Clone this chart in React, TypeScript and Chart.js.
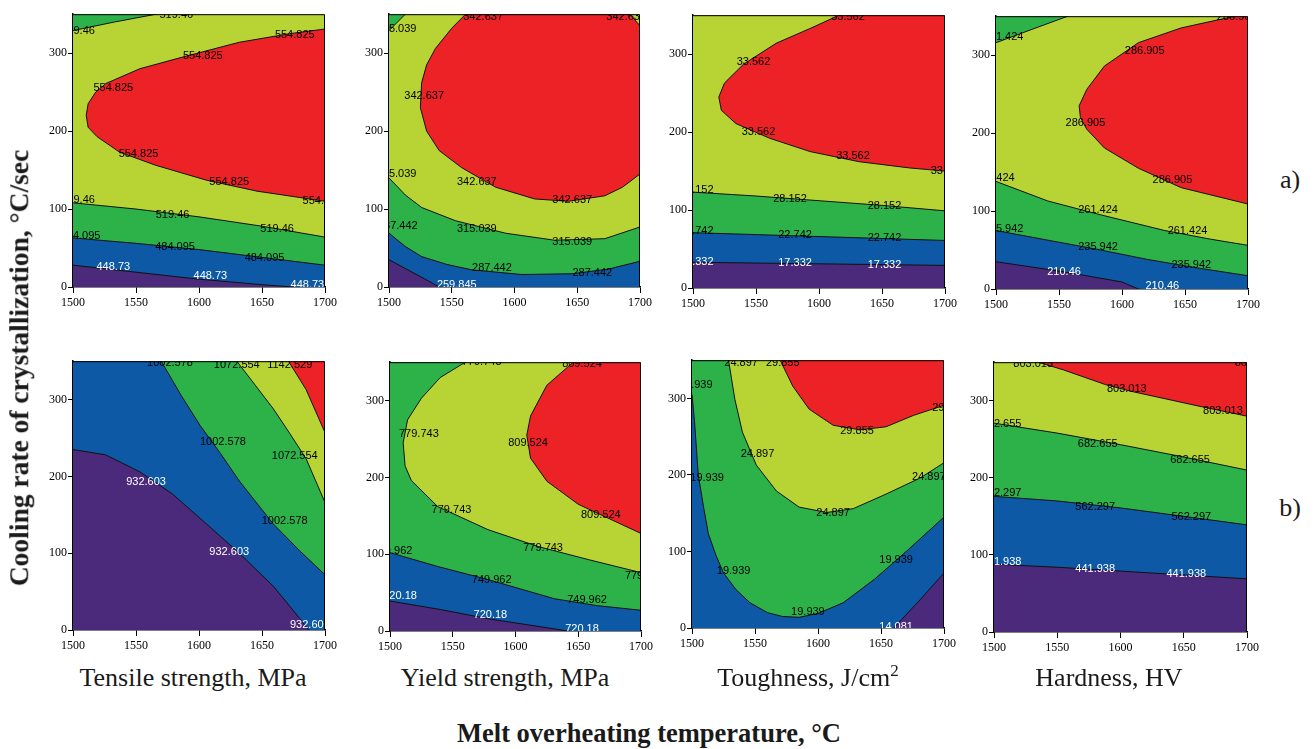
import React, { useEffect, useRef } from 'react';
import { Chart, registerables } from 'chart.js';

Chart.register(...registerables);

// ---------- axes ----------
const X_MIN = 1500;
const X_MAX = 1700;
const X_STEP = 50;
const Y_MIN = 0;
const Y_MAX = 350;
const Y_STEP = 100;

// ---------- text ----------
const yTitle = 'Cooling rate of crystallization, \u00B0C/sec';
const xTitle = 'Melt overheating temperature, \u00B0C';
const panelTitles = ['Tensile strength, MPa', 'Yield strength, MPa', 'Toughness, J/cm', 'Hardness, HV'];
const rowTags = ['a)', 'b)'];

// ---------- colours of the contour bands ----------
const PURPLE = '#4b2a7b';
const BLUE = '#0d59a6';
const GREEN = '#2db24a';
const YELLOW = '#b7d434';
const RED = '#ec2227';
const LINE = '#111111';

// ---------- contour curves [x, y] ----------
// a) Tensile strength
const tsA_448 = [[1500, 28], [1550, 19], [1600, 10], [1650, 3], [1675, 0]];
const tsA_484 = [[1500, 63], [1550, 56], [1600, 48], [1650, 38], [1700, 28]];
const tsA_519 = [[1500, 108], [1550, 100], [1600, 90], [1650, 78], [1700, 64]];
const tsA_519b = [[1500, 329], [1533, 340], [1566, 350]];
const tsA_554 = [[1700, 331], [1672, 325], [1632, 314], [1587, 295], [1553, 280], [1526, 261], [1518, 250], [1512, 235], [1510.5, 220], [1512, 205], [1519, 193], [1537, 173], [1566, 156], [1606, 137], [1646, 123], [1700, 110]];
const tsA_labels = [
  [1582, 349, '519.46'], [1504, 329, '519.46'], [1676, 323, '554.825'], [1603, 296, '554.825'],
  [1532, 255, '554.825'], [1552, 171, '554.825'], [1624, 135, '554.825'], [1698, 110, '554.825'],
  [1504, 112, '519.46'], [1579, 93, '519.46'], [1662, 74, '519.46'], [1506, 65, '484.095'],
  [1581, 51, '484.095'], [1652, 37, '484.095'], [1532, 26, '448.73'], [1609, 14, '448.73'], [1686, 3, '448.73'],
];

// a) Yield strength
const ysA_259 = [[1500, 35], [1515, 22], [1530, 9], [1540, 0]];
const ysA_287 = [[1500, 69], [1513, 52], [1526, 39], [1546, 29], [1566, 22], [1606, 16], [1646, 17], [1675, 23], [1700, 33]];
const ysA_315 = [[1500, 140], [1513, 118], [1526, 102], [1553, 85], [1593, 69], [1632, 60], [1672, 62], [1700, 77]];
const ysA_315b = [[1500, 329], [1513, 350]];
const ysA_342 = [[1700, 145], [1686, 128], [1672, 117], [1643, 110], [1616, 113], [1585, 128], [1558, 153], [1540, 175], [1530, 200], [1525, 230], [1526, 262], [1530, 285], [1537, 306], [1550, 332], [1561, 350], [1692, 350], [1700, 335]];
const ysA_labels = [
  [1575, 347, '342.637'], [1689, 346, '342.637'], [1506, 331, '315.039'], [1528, 245, '342.637'],
  [1506, 145, '315.039'], [1570, 135, '342.637'], [1646, 112, '342.637'], [1507, 78, '287.442'],
  [1570, 74, '315.039'], [1646, 58, '315.039'], [1582, 25, '287.442'], [1662, 18, '287.442'], [1554, 2, '259.845'],
];

// a) Toughness
const tgA_17 = [[1500, 33], [1600, 31], [1700, 29]];
const tgA_22 = [[1500, 71], [1600, 66], [1700, 61]];
const tgA_28 = [[1500, 123], [1550, 118], [1600, 112], [1650, 106], [1700, 99]];
const tgA_33 = [[1616, 350], [1593, 333], [1566, 314], [1540, 287], [1525, 263], [1520.5, 245], [1522.5, 228], [1534, 211], [1561, 192], [1593, 175], [1632, 162], [1672, 154], [1700, 150]];
const tgA_labels = [
  [1623, 348, '33.562'], [1548, 290, '33.562'], [1552, 200, '33.562'], [1627, 169, '33.562'], [1702, 150, '33.562'],
  [1503, 126, '28.152'], [1577, 114, '28.152'], [1652, 105, '28.152'],
  [1503, 73, '22.742'], [1581, 68, '22.742'], [1652, 64, '22.742'],
  [1503, 34, '17.332'], [1581, 32, '17.332'], [1652, 30, '17.332'],
];

// a) Hardness
const hdA_210 = [[1500, 35], [1554, 22], [1600, 9], [1613, 0]];
const hdA_235 = [[1500, 75], [1540, 63], [1580, 51], [1620, 38], [1660, 27], [1700, 17]];
const hdA_261 = [[1500, 138], [1541, 113], [1581, 96], [1634, 75], [1670, 64], [1700, 56]];
const hdA_261b = [[1500, 316], [1530, 334], [1557, 350]];
const hdA_286 = [[1690, 350], [1681, 347], [1647, 335], [1613, 316], [1586, 286], [1572, 256], [1566, 235], [1567, 220], [1572, 205], [1586, 181], [1613, 155], [1647, 130], [1700, 109]];
const hdA_labels = [
  [1691, 349, '286.905'], [1506, 323, '261.424'], [1618, 306, '286.905'], [1571, 213, '286.905'], [1640, 140, '286.905'],
  [1499, 142, '261.424'], [1581, 102, '261.424'], [1652, 75, '261.424'],
  [1506, 77, '235.942'], [1581, 54, '235.942'], [1655, 31, '235.942'],
  [1554, 22, '210.46'], [1632, 4, '210.46'],
];

// b) Tensile strength
const tsB_932 = [[1500, 235], [1526, 228], [1553, 206], [1579, 177], [1606, 138], [1632, 100], [1659, 57], [1680, 15], [1687, 0]];
const tsB_1002 = [[1570, 350], [1586, 305], [1601, 266], [1617, 230], [1632, 194], [1659, 138], [1680, 103], [1700, 72]];
const tsB_1072 = [[1630, 350], [1645, 318], [1659, 288], [1672, 256], [1685, 223], [1700, 166]];
const tsB_1142 = [[1671, 350], [1685, 313], [1700, 257]];
const tsB_labels = [
  [1577, 348, '1002.578'], [1630, 345, '1072.554'], [1672, 345, '1142.529'], [1619, 245, '1002.578'],
  [1676, 227, '1072.554'], [1558, 193, '932.603'], [1668, 142, '1002.578'], [1624, 102, '932.603'], [1688, 7, '932.603'],
];

// b) Yield strength
const ysB_720 = [[1500, 39], [1540, 28], [1578, 16], [1610, 8], [1642, 0]];
const ysB_749 = [[1500, 102], [1538, 84], [1578, 67], [1631, 42], [1665, 33], [1700, 27]];
const ysB_779 = [[1560, 350], [1540, 330], [1525, 303], [1514, 275], [1510.5, 245], [1512, 215], [1517, 196], [1538, 162], [1578, 132], [1618, 110], [1658, 93], [1700, 76]];
const ysB_809 = [[1646, 350], [1625, 320], [1612, 280], [1609, 255], [1612, 225], [1625, 195], [1650, 165], [1700, 127]];
const ysB_labels = [
  [1573, 350, '779.743'], [1653, 348, '809.524'], [1523, 257, '779.743'], [1610, 245, '809.524'],
  [1549, 157, '779.743'], [1668, 151, '809.524'], [1622, 108, '779.743'], [1703, 72, '779.743'],
  [1502, 104, '749.962'], [1581, 67, '749.962'], [1657, 41, '749.962'],
  [1508, 45, '720.18'], [1580, 21, '720.18'], [1653, 3, '720.18'],
];

// b) Toughness
const tgB_14 = [[1660, 0], [1680, 35], [1700, 72]];
const tgB_19 = [[1500, 305], [1502, 270], [1505, 200], [1509, 160], [1513, 123], [1519, 95], [1525, 72], [1535, 50], [1546, 33], [1560, 20], [1572, 15], [1585, 14], [1600, 19], [1620, 33], [1645, 64], [1670, 100], [1700, 145]];
const tgB_24 = [[1529, 350], [1534, 299], [1540, 256], [1551, 213], [1567, 179], [1585, 158], [1607, 151], [1628, 156], [1654, 175], [1681, 196], [1700, 216]];
const tgB_29 = [[1570, 350], [1580, 316], [1593, 286], [1612, 265], [1633, 259], [1654, 263], [1676, 278], [1700, 291]];
const tgB_labels = [
  [1539, 347, '24.897'], [1572, 347, '29.855'], [1503, 317, '19.939'], [1704, 288, '29.855'],
  [1631, 258, '29.855'], [1552, 228, '24.897'], [1512, 196, '19.939'], [1688, 198, '24.897'],
  [1612, 150, '24.897'], [1662, 89, '19.939'], [1533, 74, '19.939'], [1592, 21, '19.939'], [1662, 1, '14.081'],
];

// b) Hardness
const hdB_441 = [[1500, 88], [1550, 84], [1600, 79], [1650, 74], [1700, 69]];
const hdB_562 = [[1500, 176], [1550, 170], [1600, 161], [1650, 150], [1700, 139]];
const hdB_682 = [[1500, 271], [1550, 258], [1600, 243], [1650, 227], [1700, 210]];
const hdB_803 = [[1535, 350], [1555, 340], [1588, 321], [1609, 312], [1662, 293], [1700, 280]];
const hdB_labels = [
  [1531, 348, '803.013'], [1706, 349, '803.013'], [1605, 315, '803.013'], [1681, 287, '803.013'],
  [1506, 270, '682.655'], [1582, 244, '682.655'], [1655, 223, '682.655'],
  [1506, 181, '562.297'], [1580, 162, '562.297'], [1656, 149, '562.297'],
  [1506, 91, '441.938'], [1580, 82, '441.938'], [1652, 75, '441.938'],
];

// closing corners lying outside the visible plot (used only to close band polygons)
const OUT: Record<string, number[]> = {
  TL: [1480, 372],
  TR: [1720, 372],
  BR: [1720, -22],
  BL: [1480, -22],
};

type Poly = { color: string; pts: number[][]; close: string[] };
type Spec = {
  left: number; top: number; w: number; h: number;
  base: string; polys: Poly[]; labels: any[]; low: string;
};

const specs: Spec[] = [
  {
    left: 73, top: 11, w: 252, h: 276, base: PURPLE, low: '448.73', labels: tsA_labels,
    polys: [
      { color: BLUE, pts: tsA_448, close: ['BR', 'TR', 'TL'] },
      { color: GREEN, pts: tsA_484, close: ['TR', 'TL'] },
      { color: YELLOW, pts: tsA_519, close: ['TR', 'TL'] },
      { color: GREEN, pts: tsA_519b, close: ['TL'] },
      { color: RED, pts: tsA_554, close: [] },
    ],
  },
  {
    left: 389, top: 11, w: 251, h: 276, base: PURPLE, low: '259.845', labels: ysA_labels,
    polys: [
      { color: BLUE, pts: ysA_259, close: ['BR', 'TR', 'TL'] },
      { color: GREEN, pts: ysA_287, close: ['TR', 'TL'] },
      { color: YELLOW, pts: ysA_315, close: ['TR', 'TL'] },
      { color: GREEN, pts: ysA_315b, close: ['TL'] },
      { color: RED, pts: ysA_342, close: [] },
    ],
  },
  {
    left: 693, top: 12, w: 252, h: 276, base: PURPLE, low: '17.332', labels: tgA_labels,
    polys: [
      { color: BLUE, pts: tgA_17, close: ['TR', 'TL'] },
      { color: GREEN, pts: tgA_22, close: ['TR', 'TL'] },
      { color: YELLOW, pts: tgA_28, close: ['TR', 'TL'] },
      { color: RED, pts: tgA_33, close: ['TR'] },
    ],
  },
  {
    left: 996, top: 13, w: 252, h: 276, base: PURPLE, low: '210.46', labels: hdA_labels,
    polys: [
      { color: BLUE, pts: hdA_210, close: ['BR', 'TR', 'TL'] },
      { color: GREEN, pts: hdA_235, close: ['TR', 'TL'] },
      { color: YELLOW, pts: hdA_261, close: ['TR', 'TL'] },
      { color: GREEN, pts: hdA_261b, close: ['TL'] },
      { color: RED, pts: hdA_286, close: ['TR'] },
    ],
  },
  {
    left: 73, top: 358, w: 252, h: 272, base: PURPLE, low: '932.603', labels: tsB_labels,
    polys: [
      { color: BLUE, pts: tsB_932, close: ['BR', 'TR', 'TL'] },
      { color: GREEN, pts: tsB_1002, close: ['TR'] },
      { color: YELLOW, pts: tsB_1072, close: ['TR'] },
      { color: RED, pts: tsB_1142, close: ['TR'] },
    ],
  },
  {
    left: 390, top: 359, w: 251, h: 272, base: PURPLE, low: '720.18', labels: ysB_labels,
    polys: [
      { color: BLUE, pts: ysB_720, close: ['BR', 'TR', 'TL'] },
      { color: GREEN, pts: ysB_749, close: ['TR', 'TL'] },
      { color: YELLOW, pts: ysB_779, close: ['TR'] },
      { color: RED, pts: ysB_809, close: ['TR'] },
    ],
  },
  {
    left: 692, top: 357, w: 252, h: 271, base: BLUE, low: '14.081', labels: tgB_labels,
    polys: [
      { color: PURPLE, pts: tgB_14, close: ['BR'] },
      { color: GREEN, pts: tgB_19, close: ['TR', 'TL'] },
      { color: YELLOW, pts: tgB_24, close: ['TR'] },
      { color: RED, pts: tgB_29, close: ['TR'] },
    ],
  },
  {
    left: 994, top: 359, w: 253, h: 273, base: PURPLE, low: '441.938', labels: hdB_labels,
    polys: [
      { color: BLUE, pts: hdB_441, close: ['TR', 'TL'] },
      { color: GREEN, pts: hdB_562, close: ['TR', 'TL'] },
      { color: YELLOW, pts: hdB_682, close: ['TR', 'TL'] },
      { color: RED, pts: hdB_803, close: ['TR'] },
    ],
  },
];

const SERIF = '"Liberation Serif", "Times New Roman", serif';
const SANS = '"Liberation Sans", Arial, sans-serif';
const AX_W = 50;
const AX_H = 30;
const PAD_T = 5;
const PAD_R = 15;

function ContourPlot({ spec }: { spec: Spec }) {
  const ref = useRef<HTMLCanvasElement>(null);
  const cw = spec.w + AX_W + PAD_R;
  const ch = spec.h + AX_H + PAD_T;

  useEffect(() => {
    const canvas = ref.current;
    if (!canvas) return;
    // Chart.js paints the last dataset first, so the bands are listed top-most first.
    const datasets = spec.polys
      .map((p) => ({
        data: [...p.pts, ...p.close.map((k) => OUT[k])].map(([x, y]) => ({ x, y })),
        showLine: true,
        fill: 'shape',
        backgroundColor: p.color,
        borderColor: LINE,
        borderWidth: 1,
        pointRadius: 0,
        pointHoverRadius: 0,
        tension: 0,
        clip: 0,
      }))
      .reverse();

    const bandPlugin = {
      id: 'bands',
      beforeDatasetsDraw(chart: any) {
        const a = chart.chartArea;
        const ctx = chart.ctx;
        ctx.save();
        ctx.fillStyle = spec.base;
        ctx.fillRect(a.left, a.top, a.right - a.left, a.bottom - a.top);
        ctx.restore();
      },
      afterDatasetsDraw(chart: any) {
        const a = chart.chartArea;
        const ctx = chart.ctx;
        const xs = chart.scales.x;
        const ys = chart.scales.y;
        ctx.save();
        ctx.beginPath();
        ctx.rect(a.left, a.top, a.right - a.left, a.bottom - a.top);
        ctx.clip();
        ctx.font = '11px ' + SANS;
        ctx.textAlign = 'center';
        ctx.textBaseline = 'middle';
        for (const [lx, ly, t] of spec.labels) {
          ctx.fillStyle = t === spec.low ? '#ffffff' : '#000000';
          ctx.fillText(t, xs.getPixelForValue(lx), ys.getPixelForValue(ly));
        }
        ctx.restore();
        ctx.save();
        ctx.strokeStyle = '#000';
        ctx.lineWidth = 1;
        ctx.beginPath();
        ctx.moveTo(a.left, a.top + 0.5);
        ctx.lineTo(a.right - 0.5, a.top + 0.5);
        ctx.lineTo(a.right - 0.5, a.bottom);
        ctx.stroke();
        ctx.restore();
      },
    };

    const tickFont = { family: SERIF, size: 12 };
    const chart = new Chart(canvas, {
      type: 'scatter',
      data: { datasets: datasets as any },
      options: {
        responsive: false,
        animation: false,
        devicePixelRatio: 1,
        events: [],
        layout: { padding: { top: PAD_T, right: PAD_R, left: 0, bottom: 0 } },
        plugins: { legend: { display: false }, tooltip: { enabled: false }, title: { display: false } },
        scales: {
          x: {
            type: 'linear',
            min: X_MIN,
            max: X_MAX,
            z: 1,
            ticks: {
              stepSize: X_STEP, color: '#000', font: tickFont, padding: 3, maxRotation: 0, autoSkip: false,
              callback: (v: any) => String(v),
            },
            grid: { drawOnChartArea: false, drawTicks: true, tickLength: 6, color: '#000', tickWidth: 1 },
            border: { display: true, color: '#000', width: 1.5 },
            afterFit: (s: any) => { s.height = AX_H; },
          },
          y: {
            type: 'linear',
            min: Y_MIN,
            max: Y_MAX,
            z: 1,
            ticks: {
              stepSize: Y_STEP, includeBounds: false, color: '#000', font: tickFont, padding: 1,
              callback: (v: any) => String(v),
            },
            grid: { drawOnChartArea: false, drawTicks: true, tickLength: 5, color: '#000', tickWidth: 1 },
            border: { display: true, color: '#000', width: 1.5 },
            afterFit: (s: any) => { s.width = AX_W; },
          },
        },
      } as any,
      plugins: [bandPlugin],
    });
    return () => chart.destroy();
  }, []);

  return (
    <canvas
      ref={ref}
      width={cw}
      height={ch}
      style={{ position: 'absolute', left: spec.left - AX_W, top: spec.top - PAD_T, width: cw, height: ch }}
    />
  );
}

const titleCenters = [193, 505, 808, 1109];

export default function App() {
  const centered = (x: number, y: number, extra: any = {}) => ({
    position: 'absolute' as const,
    left: x,
    top: y,
    transform: 'translate(-50%, -50%)',
    whiteSpace: 'nowrap' as const,
    lineHeight: 1,
    fontFamily: SERIF,
    fontSize: 26,
    color: '#1a1a1a',
    ...extra,
  });

  return (
    <div style={{ position: 'absolute', left: 0, top: 0, width: 1315, height: 749, background: '#fff', overflow: 'hidden' }}>
      {specs.map((s, i) => (
        <ContourPlot key={i} spec={s} />
      ))}
      {panelTitles.map((t, i) => (
        <div key={t} style={centered(titleCenters[i], 678)}>
          {t}
          {i === 2 ? <sup style={{ fontSize: 17, verticalAlign: 'top', position: 'relative', top: -3 }}>2</sup> : null}
        </div>
      ))}
      <div style={centered(1290, 180)}>{rowTags[0]}</div>
      <div style={centered(1290, 508)}>{rowTags[1]}</div>
      <div style={centered(649, 733, { fontWeight: 'bold', fontSize: 26.5 })}>{xTitle}</div>
      <div style={centered(19, 368, { fontWeight: 'bold', fontSize: 27.5, transform: 'translate(-50%, -50%) rotate(-90deg)' })}>{yTitle}</div>
    </div>
  );
}
